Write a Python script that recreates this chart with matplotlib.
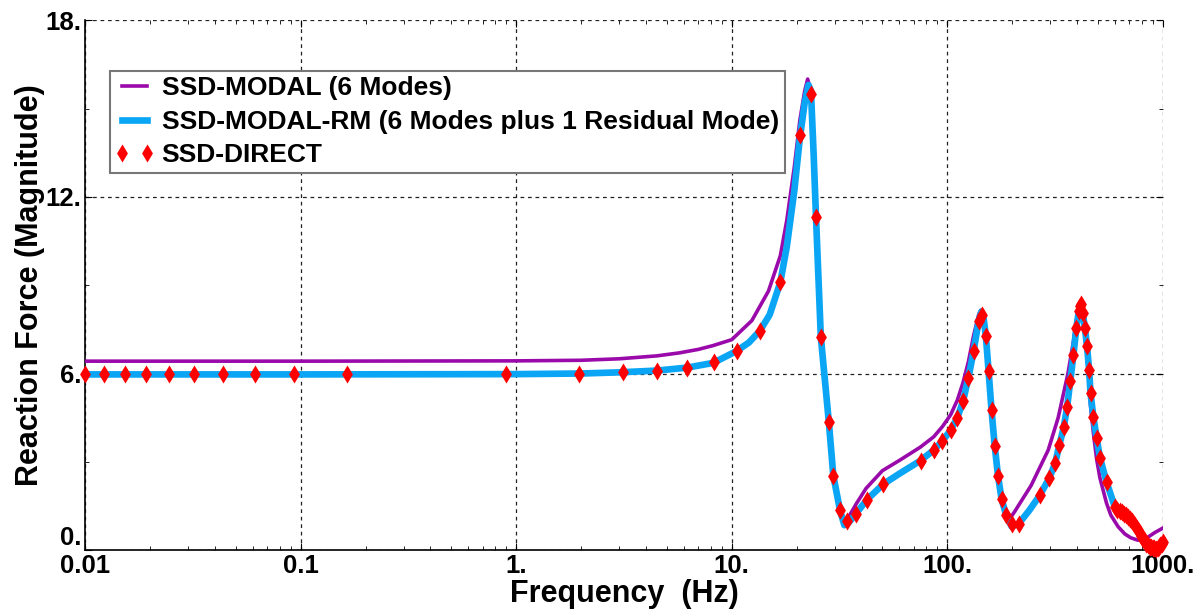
import matplotlib
matplotlib.use("Agg")
import matplotlib.pyplot as plt
from matplotlib.lines import Line2D
from matplotlib.ticker import FixedLocator, LogLocator, NullFormatter
from matplotlib.legend_handler import HandlerLine2D

plt.rcParams['font.family'] = ['Liberation Sans', 'DejaVu Sans']
plt.rcParams['font.weight'] = 'bold'

# SSD-MODAL (6 modes) - purple
modal_freq = [0.01, 0.1, 1, 2, 3, 4.5, 5.7, 7, 8.2, 10, 12.4, 14.8, 16.8, 18, 19.5,
              20.7, 21.8, 22.5, 23.3, 24, 24.6, 25.9, 28.2, 29.6, 31.8, 33.5, 35,
              38, 42, 50, 60, 75, 86.5, 95, 103.7, 111.4, 118.4, 125.3, 132.6,
              139.9, 143, 147, 151, 155.5, 160.4, 166, 172, 178.7, 187.8, 192,
              205, 245, 294, 327, 363, 385, 397, 408, 413, 425, 435, 445, 455,
              462, 476, 493, 511, 548, 574, 620, 667, 711, 766, 808, 852, 919, 1000]
modal_mag = [6.42, 6.42, 6.43, 6.45, 6.5, 6.6, 6.7, 6.82, 6.95, 7.15, 7.8, 8.8, 10.0,
             11.2, 13.0, 14.6, 15.6, 16.0, 15.6, 13.4, 11.3, 7.24, 4.37, 2.53, 1.35,
             1.0, 1.15, 1.6, 2.1, 2.7, 3.05, 3.5, 3.85, 4.2, 4.6, 5.1, 5.7, 6.4, 7.3,
             8.0, 8.15, 7.95, 7.27, 6.08, 4.77, 3.54, 2.52, 1.73, 1.18, 1.0, 1.3,
             2.2, 3.4, 4.5, 6.0, 7.1, 7.8, 8.2, 8.3, 7.95, 7.3, 6.6, 5.7, 4.9, 4.0,
             3.1, 2.45, 1.6, 1.19, 0.8, 0.55, 0.42, 0.34, 0.36, 0.44, 0.6, 0.75]

# SSD-MODAL-RM (6 modes + 1 residual mode) - blue
rm_freq = [0.01, 0.1, 1, 2, 3, 4.5, 6.2, 8.2, 10.5, 12, 13.5, 15, 16.8, 18, 19.5,
           20.7, 21.8, 22.7, 23.3, 24, 24.6, 25.9, 28.2, 29.6, 31.8, 33.3, 35,
           37.7, 42.2, 50.4, 60, 75, 86.5, 95, 103.7, 111.4, 118.4, 125.3, 132.6,
           139.9, 144, 147, 151, 155.5, 160.4, 166, 172, 178.7, 187.8, 199, 214.6,
           240, 269, 298, 317, 331, 347, 360, 372, 385, 397, 408, 415, 425, 435,
           445, 455, 462, 476, 493, 511, 548, 600, 667, 711, 766, 808, 852, 919,
           978, 1000]
rm_mag = [5.97, 5.97, 5.98, 6.0, 6.04, 6.1, 6.2, 6.36, 6.76, 7.05, 7.45, 8.0, 9.1,
          10.3, 12.2, 14.0, 15.2, 15.8, 15.6, 13.4, 11.3, 7.24, 4.37, 2.53, 1.35,
          0.85, 0.95, 1.24, 1.7, 2.24, 2.6, 3.04, 3.4, 3.71, 4.08, 4.5, 5.07, 5.85,
          6.78, 7.8, 8.1, 7.95, 7.27, 6.08, 4.77, 3.54, 2.52, 1.73, 1.18, 0.8, 0.9,
          1.35, 1.87, 2.46, 2.97, 3.57, 4.17, 4.88, 5.73, 6.64, 7.55, 8.12, 8.29,
          8.07, 7.55, 6.93, 6.13, 5.33, 4.54, 3.82, 3.14, 2.32, 1.45, 1.19, 1.02,
          0.68, 0.38, 0.17, 0.08, 0.2, 0.25]

# SSD-DIRECT - red diamonds
direct_freq = [0.01, 0.01225, 0.0153, 0.0192, 0.0245, 0.0321, 0.0436, 0.0616, 0.0933,
               0.164, 0.9, 1.95, 3.12, 4.5, 6.2, 8.3, 10.6, 13.5, 16.8, 20.7, 23.3,
               24.5, 25.9, 28.2, 29.6, 31.8, 34.3, 37.7, 42.2, 50.4, 75.2, 86.5, 95,
               103.7, 111.4, 118.4, 125.3, 132.6, 139.9, 145, 151, 155.5, 160.4, 166,
               172, 178.7, 187.8, 199, 214.6, 269, 298, 317, 331, 347, 360, 372, 385,
               397, 408, 415, 418, 425, 435, 445, 455, 462, 476, 493, 511, 548, 600,
               615, 630, 645, 660, 675, 690, 705, 720, 735, 750, 765, 780, 795, 810,
               825, 840, 855, 870, 885, 900, 915, 930, 945, 960, 975, 990, 1000]
direct_mag = [5.97, 5.97, 5.97, 5.97, 5.97, 5.97, 5.97, 5.97, 5.97, 5.97, 5.98, 6.0,
              6.04, 6.1, 6.2, 6.38, 6.76, 7.45, 9.1, 14.1, 15.5, 11.3, 7.24, 4.37,
              2.53, 1.35, 0.98, 1.24, 1.7, 2.24, 3.04, 3.4, 3.71, 4.08, 4.5, 5.07,
              5.85, 6.78, 7.8, 8.0, 7.27, 6.08, 4.77, 3.54, 2.52, 1.73, 1.18, 0.9,
              0.9, 1.87, 2.46, 2.97, 3.57, 4.17, 4.88, 5.73, 6.64, 7.55, 8.12, 8.29,
              8.35, 8.07, 7.55, 6.93, 6.13, 5.33, 4.54, 3.82, 3.14, 2.32, 1.45, 1.38,
              1.32, 1.28, 1.22, 1.18, 1.12, 1.05, 0.98, 0.88, 0.78, 0.68, 0.58, 0.48,
              0.38, 0.3, 0.22, 0.16, 0.12, 0.1, 0.08, 0.06, 0.05, 0.06, 0.1, 0.16,
              0.22, 0.28]

x_ticks = [0.01, 0.1, 1, 10, 100, 1000]
x_labels = ['0.01', '0.1', '1.', '10.', '100.', '1000.']
y_ticks = [0, 6, 12, 18]
y_labels = ['0.', '6.', '12.', '18.']

# diamond marker, a bit narrower than it is tall
diamond = [(0, 1), (0.6, 0), (0, -1), (-0.6, 0), (0, 1)]

fig = plt.figure(figsize=(12, 6.12), dpi=100)
ax = fig.add_axes([0.071, 0.101, 0.898, 0.866])

ax.plot(modal_freq, modal_mag, color='#9A0AAA', lw=2.6, zorder=3,
        label='SSD-MODAL (6 Modes)')
ax.plot(rm_freq, rm_mag, color='#0AA5F5', lw=4.8, zorder=4,
        label='SSD-MODAL-RM (6 Modes plus 1 Residual Mode)')
ax.plot(direct_freq, direct_mag, linestyle='none', marker=diamond,
        markersize=13, color='red', markeredgewidth=0, zorder=5,
        clip_on=False, label='SSD-DIRECT')

ax.set_xscale('log')
ax.set_xlim(0.01, 1000)
ax.set_ylim(0, 18)

ax.xaxis.set_major_locator(FixedLocator(x_ticks))
ax.set_xticklabels(x_labels)
ax.xaxis.set_minor_locator(LogLocator(base=10, subs=range(2, 10)))
ax.xaxis.set_minor_formatter(NullFormatter())
ax.yaxis.set_major_locator(FixedLocator(y_ticks))
ax.set_yticklabels(y_labels)
ax.yaxis.set_minor_locator(FixedLocator([3, 9, 15]))

ax.tick_params(which='both', direction='in', top=True, right=True, labelsize=18.5)
ax.tick_params(axis='y', pad=3)
ax.tick_params(axis='x', pad=3)
ax.tick_params(which='major', length=5)
ax.tick_params(which='minor', length=3)
for lbl in ax.get_xticklabels() + ax.get_yticklabels():
    lbl.set_fontweight('bold')
ax.get_yticklabels()[0].set_verticalalignment('bottom')

ax.grid(True, which='major', color='#222222', linestyle=(0, (3, 3)), lw=0.9)
ax.spines['top'].set_visible(False)
ax.spines['right'].set_visible(False)
ax.spines['left'].set_linewidth(1.2)
ax.spines['bottom'].set_linewidth(1.2)

ax.set_xlabel('Frequency  (Hz)', fontsize=22, fontweight='bold')
ax.xaxis.set_label_coords(0.5, -0.055)
ax.set_ylabel('Reaction Force (Magnitude)', fontsize=22, fontweight='bold')
ax.yaxis.set_label_coords(-0.037, 0.5)

leg = ax.legend(loc='upper left', bbox_to_anchor=(0.023, 0.905), borderaxespad=0,
                numpoints=2, handlelength=1.4, handletextpad=0.34,
                labelspacing=0.36, borderpad=0.22, fancybox=False, framealpha=1,
                edgecolor='#777777', prop={'size': 19, 'weight': 'bold'},
                handler_map={Line2D: HandlerLine2D(marker_pad=0.22)})
leg.get_frame().set_linewidth(1.5)

fig.savefig('out.png', dpi=100)
